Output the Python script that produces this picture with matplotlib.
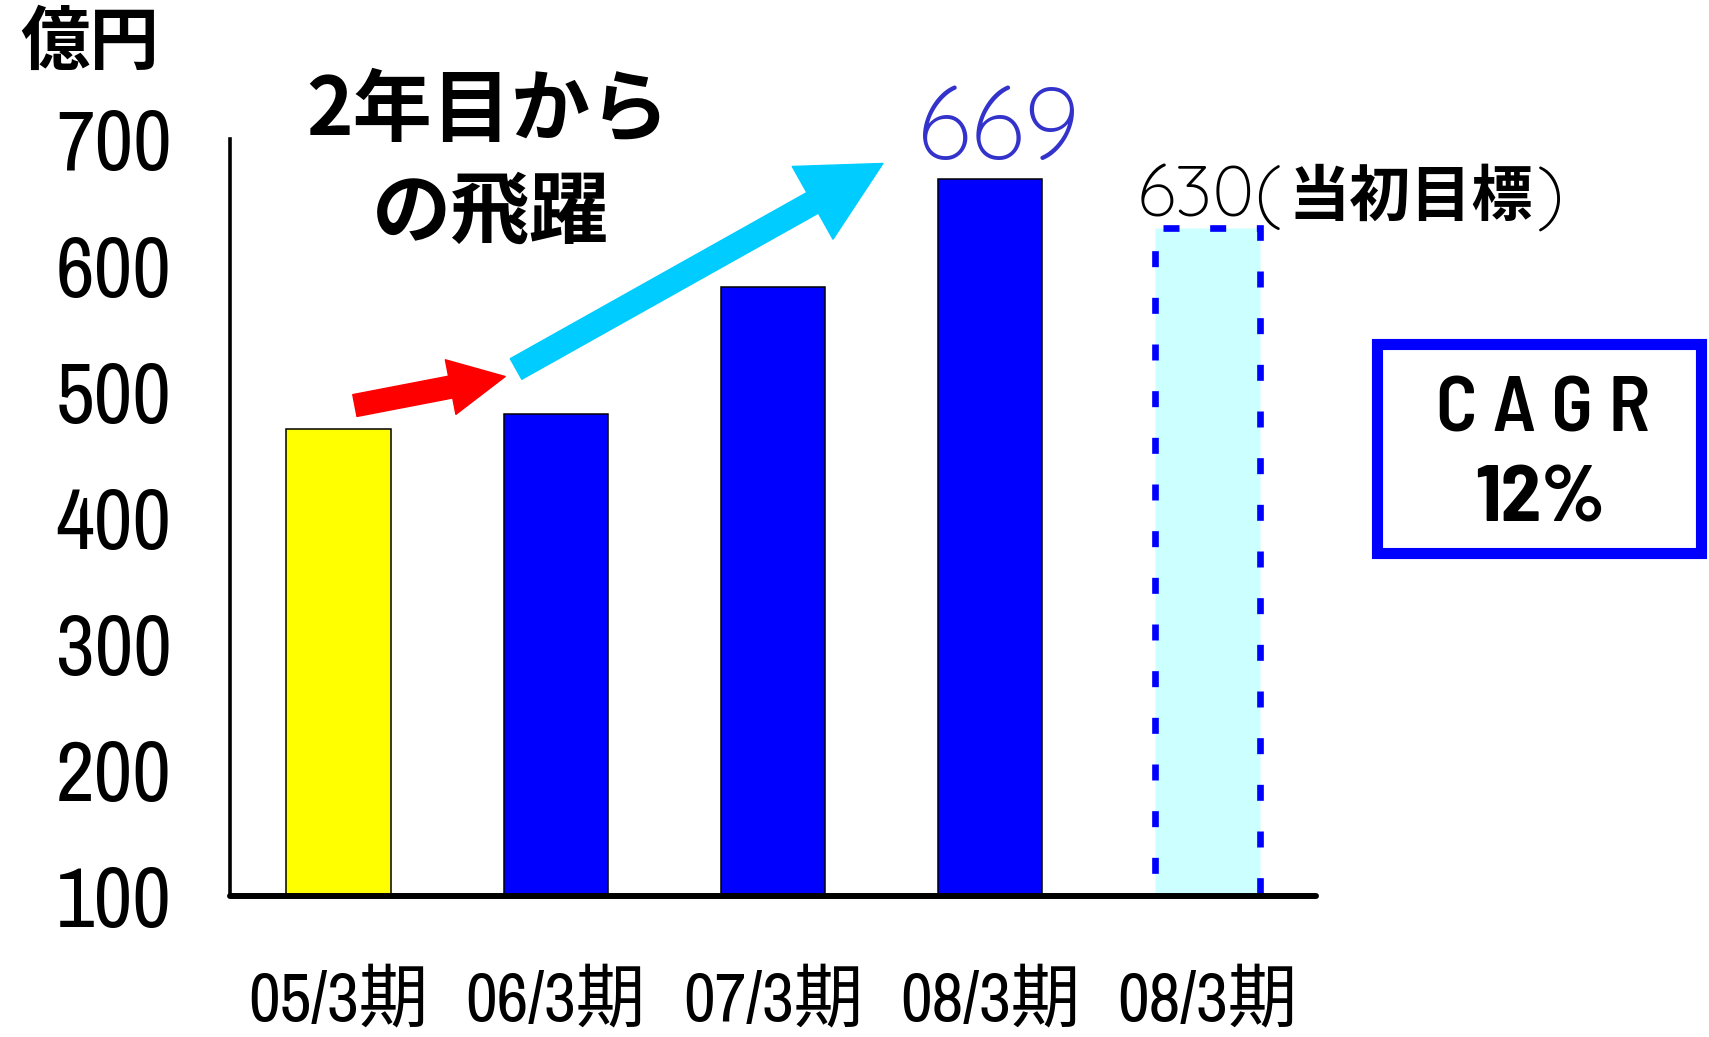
import matplotlib
matplotlib.use("Agg")
import matplotlib.pyplot as plt
from matplotlib import font_manager
from matplotlib.patches import Rectangle

# data (億円)
periods = ["05/3期", "06/3期", "07/3期", "08/3期", "08/3期"]
sales = [470, 482, 583, 669, 630]
bar_colors = ["#FFFF00", "#0000FF", "#0000FF", "#0000FF", "#CCFFFF"]
yticks = [100, 200, 300, 400, 500, 600, 700]

# arrows (data coords: tail -> tip)
red_arrow = [(0.075, 489), (0.767, 512)]
cyan_arrow = [(0.817, 518), (2.506, 681)]

names = {f.name for f in font_manager.fontManager.ttflist}


def pick(*cands):
    for c in cands:
        if c in names:
            return c
    return "Liberation Sans"


narrow = pick("Liberation Sans Narrow", "Arial Narrow", "Archivo Narrow", "Roboto Condensed",
              "PT Sans Narrow", "Barlow Semi Condensed")
din = pick("Barlow Semi Condensed", "Roboto Condensed", narrow)
thin = pick("Quicksand", "Questrial", "Noto Sans")
jp = "Noto Sans CJK JP"

W, H = 1709, 1037
fig = plt.figure(figsize=(W / 100, H / 100), dpi=100)
ax = fig.add_axes([230 / W, 1 - 896 / H, (1316 - 230) / W, (896 - 139.5) / H])

x = list(range(len(sales)))
ax.bar(x[:4], sales[:4], width=0.48, color=bar_colors[:4],
       edgecolor="black", linewidth=1.1, zorder=2)
ax.bar(x[4], sales[4], width=0.48, color=bar_colors[4],
       edgecolor="#0000FF", linewidth=4.8, linestyle=(0, (2.4, 4.6)), zorder=2)

ax.set_xlim(-0.5, 4.5)
ax.set_ylim(100, 700)
ax.set_yticks(yticks)
ax.set_xticks(x)
ax.set_xticklabels(periods, family=[narrow, jp], fontsize=50)
ax.set_yticklabels([str(v) for v in yticks], family=[narrow], fontsize=61)
ax.tick_params(axis="both", length=0)
ax.tick_params(axis="y", pad=42)
ax.tick_params(axis="x", pad=52)

for s in ["top", "right"]:
    ax.spines[s].set_visible(False)
ax.spines["left"].set_linewidth(2.6)
ax.spines["bottom"].set_linewidth(4.3)
ax.spines["bottom"].set_zorder(5)
ax.spines["bottom"].set_capstyle("round")

# arrows
ax.annotate("", xy=red_arrow[1], xytext=red_arrow[0], annotation_clip=False,
            arrowprops=dict(arrowstyle="simple,head_length=40,head_width=40,tail_width=16",
                            mutation_scale=1, color="#FF0000", shrinkA=0, shrinkB=0))
ax.annotate("", xy=cyan_arrow[1], xytext=cyan_arrow[0], annotation_clip=False,
            arrowprops=dict(arrowstyle="simple,head_length=58,head_width=60,tail_width=17",
                            mutation_scale=1, color="#00CCFF", shrinkA=0, shrinkB=0))

# value label on 08/3期
ax.annotate(str(sales[3]), xy=(x[3], sales[3]), xytext=(6, 14), textcoords="offset points",
            ha="center", va="baseline", fontsize=72, color="#3333CC", family=[thin],
            fontweight=600, annotation_clip=False)


def fx(px):
    return px / W


def fy(py):
    return 1 - py / H


fig.text(fx(90), fy(44), "億円", ha="center", va="center", fontsize=50,
         fontweight="bold", family=[jp])
fig.text(fx(488), fy(112), "2年目から", ha="center", va="center", fontsize=57,
         fontweight="bold", family=[jp])
fig.text(fx(491), fy(213), "の飛躍", ha="center", va="center", fontsize=57,
         fontweight="bold", family=[jp])

# initial target label
t1 = fig.text(fx(1137), fy(216), "630(", ha="left", va="baseline", fontsize=52,
              family=[thin], fontweight=500)
t2 = ax.annotate("当初目標", xy=(1, 0.02), xycoords=t1, xytext=(4, 0), textcoords="offset points",
                 ha="left", va="bottom", fontsize=44, fontweight="bold", family=[jp])
t3 = ax.annotate(")", xy=(1, 0), xycoords=t2, xytext=(3, -2), textcoords="offset points",
                 ha="left", va="bottom", fontsize=52, family=[thin], fontweight=500)

# CAGR box
fig.patches.append(Rectangle((fx(1376.5), fy(552.5)), (1700.5 - 1376.5) / W, (552.5 - 343.5) / H,
                             transform=fig.transFigure, fill=False, edgecolor="#0000FF",
                             linewidth=8, figure=fig))
fig.text(fx(1543), fy(412), "C A G R", ha="center", va="center", fontsize=56,
         fontweight="semibold", family=[din])
fig.text(fx(1540), fy(501), "12%", ha="center", va="center", fontsize=58,
         fontweight="bold", family=[din])

fig.savefig("out.png", dpi=100)
